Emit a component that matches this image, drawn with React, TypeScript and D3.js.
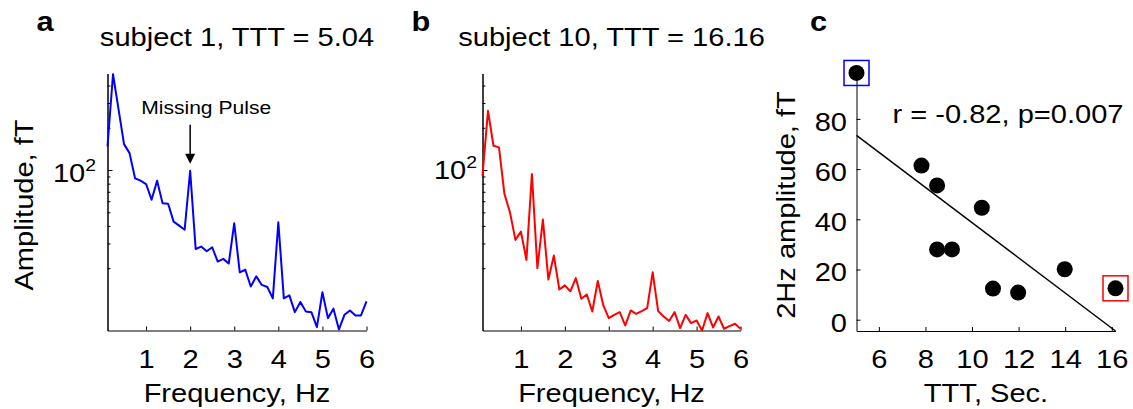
import { useEffect, useRef } from "react";
import * as d3 from "d3";

// frequency bins (Hz)
const freq = [0.125, 0.25, 0.375, 0.5, 0.625, 0.75, 0.875, 1, 1.125, 1.25, 1.375, 1.5, 1.625, 1.75, 1.875, 2,
  2.125, 2.25, 2.375, 2.5, 2.625, 2.75, 2.875, 3, 3.125, 3.25, 3.375, 3.5, 3.625, 3.75, 3.875, 4,
  4.125, 4.25, 4.375, 4.5, 4.625, 4.75, 4.875, 5, 5.125, 5.25, 5.375, 5.5, 5.625, 5.75, 5.875, 6];

// amplitude spectrum, subject 1 (fT)
const ampSubj1 = [147.3, 481, 271.5, 153, 132, 87.3, 84.0, 79.5, 61.5, 84.0, 57.9, 57.6, 42.9, 40.2, 37.6, 98.9,
  27.4, 28.5, 26.4, 28.2, 22.3, 23.3, 21.6, 41.8, 18.7, 19.5, 14.8, 17.5, 15.2, 14.7, 12.2, 42.5,
  12.2, 12.8, 9.73, 11.5, 9.84, 9.73, 7.61, 13.5, 8.82, 10.3, 7.33, 9.31, 10.0, 9.21, 9.21, 11.6];

// amplitude spectrum, subject 10 (fT)
const ampSubj10 = [91.1, 264, 149, 145, 67.5, 50.0, 31.8, 36.5, 22.9, 93.7, 20.0, 44.4, 16.6, 24.6, 14.1, 15.1,
  13.7, 17.0, 12.1, 13.0, 9.84, 16.2, 10.9, 8.82, 9.31, 9.73, 7.82, 10.0, 9.47, 9.89, 10.4, 18.7,
  9.89, 9.06, 8.40, 9.73, 7.49, 9.31, 8.13, 8.49, 7.2, 9.57, 7.57, 9.06, 7.41, 7.74, 8.04, 7.41];

// scatter: TTT (s) vs 2Hz amplitude (fT)
const ttt = [5.04, 7.83, 8.5, 8.5, 9.14, 10.42, 10.9, 11.98, 13.98, 16.16];
const amp2Hz = [98.3, 61.4, 53.5, 28.0, 28.0, 44.6, 12.4, 10.8, 20.1, 12.5];

const freqTicks = [1, 2, 3, 4, 5, 6];
const logMinor = [20, 30, 40, 50, 60, 70, 80, 90, 200, 300, 400];
const tttTicks = [6, 8, 10, 12, 14, 16];
const ampTicks = [0, 20, 40, 60, 80];

const FONT = "'Liberation Sans', Arial, Helvetica, sans-serif";
const FS = 25.5;
const SX = 1.14;

const App = () => {
  const svgRef = useRef<SVGSVGElement>(null);

  useEffect(() => {
    const svg = d3.select(svgRef.current);
    svg.selectAll("*").remove();

    const label = (g: any, x: number, y: number, txt: string, o: any = {}) =>
      g.append("text")
        .attr("transform", `translate(${x},${y}) rotate(${o.rot || 0}) scale(${SX},1)`)
        .attr("text-anchor", o.anchor || "middle")
        .attr("font-size", o.size || FS)
        .attr("font-weight", o.weight || "normal")
        .attr("font-family", FONT)
        .attr("fill", "#000")
        .text(txt);

    const styleAxis = (ax: any) => {
      ax.attr("font-family", FONT).attr("font-size", FS);
      ax.selectAll("path, line").attr("stroke", "#000").attr("stroke-width", 1);
    };

    const top = 73.5, bottom = 330.5;
    const y = d3.scaleLog().domain([7.2, 487]).range([bottom, top]);

    const spectrum = (left: number, right: number, values: number[], color: string,
      title: string, letter: string, supX: number, supY: number) => {
      const g = svg.append("g");
      const x = d3.scaleLinear().domain([0.125, 6]).range([left, right]);

      const xAx = g.append("g")
        .attr("transform", `translate(0,${bottom})`)
        .call(d3.axisBottom(x).tickValues(freqTicks).tickSizeInner(-4).tickSizeOuter(0).tickPadding(19.5).tickFormat(d3.format("d")));
      styleAxis(xAx);
      xAx.selectAll("text").attr("transform", `scale(${SX},1)`);

      const yMinor = g.append("g")
        .attr("transform", `translate(${left},0)`)
        .call(d3.axisLeft(y).tickValues(logMinor).tickSizeInner(-3).tickSizeOuter(0).tickFormat(() => ""));
      styleAxis(yMinor);
      const yMajor = g.append("g")
        .attr("transform", `translate(${left},0)`)
        .call(d3.axisLeft(y).tickValues([100]).tickSizeInner(-5).tickSizeOuter(0).tickFormat(() => ""));
      styleAxis(yMajor);

      // 10^2 label
      const t = label(g, supX, y(100) + supY, "10", { anchor: "end" });
      t.append("tspan").attr("dy", -11).attr("font-size", 17).text("2");

      const line = d3.line<number>()
        .x((_, i) => x(freq[i]))
        .y(d => y(d));
      g.append("path")
        .datum(values)
        .attr("fill", "none")
        .attr("stroke", color)
        .attr("stroke-width", 2)
        .attr("stroke-linejoin", "round")
        .attr("d", line);

      label(g, (left + right) / 2, 46, title);
      label(g, (left + right) / 2, 401.5, "Frequency, Hz");
      label(g, left - 71, 31, letter, { anchor: "start", weight: "bold", size: 27 });
      return { g, x };
    };

    const a = spectrum(107.5, 366.5, ampSubj1, "#0000ff", "subject 1, TTT = 5.04", "a", 96, 11.5);
    spectrum(482.5, 740.5, ampSubj10, "#ff0000", "subject 10, TTT = 16.16", "b", 477, 8.5);

    label(a.g, 33, 205, "Amplitude, fT", { rot: -90 });

    // Missing pulse annotation
    const px = a.x(2);
    const py = y(ampSubj1[15]) - 7;
    a.g.append("line")
      .attr("x1", px).attr("x2", px)
      .attr("y1", py - 39).attr("y2", py - 8)
      .attr("stroke", "#000").attr("stroke-width", 1.5);
    a.g.append("path")
      .attr("d", `M${px - 5},${py - 10}L${px + 5},${py - 10}L${px},${py}Z`)
      .attr("fill", "#000");
    label(a.g, px + 16, py - 50, "Missing Pulse", { size: 18.5 });

    // panel c
    const gc = svg.append("g");
    const cl = 856.5, cr = 1115.5, cb = 331, ct = 68.7;
    const xc = d3.scaleLinear().domain([5.04, 16.16]).range([cl, cr]);

    const n = ttt.length;
    const mx = d3.mean(ttt)!, my = d3.mean(amp2Hz)!;
    const sxy = d3.sum(ttt, (v, i) => (v - mx) * (amp2Hz[i] - my));
    const sxx = d3.sum(ttt, v => (v - mx) ** 2);
    const slope = sxy / sxx;
    const icpt = my - slope * mx;
    const yLow = icpt + slope * 16.16;
    const yc = d3.scaleLinear().domain([yLow, 100]).range([cb, ct]);

    const cx = gc.append("g")
      .attr("transform", `translate(0,${cb})`)
      .call(d3.axisBottom(xc).tickValues(tttTicks).tickSizeInner(-4).tickSizeOuter(0).tickPadding(19.2).tickFormat(d3.format("d")));
    styleAxis(cx);
    cx.selectAll("text").attr("transform", `scale(${SX},1)`);

    const cy = gc.append("g")
      .attr("transform", `translate(${cl},0)`)
      .call(d3.axisLeft(yc).tickValues(ampTicks).tickSizeInner(-4).tickSizeOuter(0).tickPadding(9.5).tickFormat(d3.format("d")));
    styleAxis(cy);
    cy.selectAll("text")
      .attr("dy", "0.45em")
      .attr("transform", `translate(-9.5,0) scale(${SX},1)`)
      .attr("x", 0);

    gc.append("line")
      .attr("x1", xc(5.04)).attr("y1", yc(icpt + slope * 5.04))
      .attr("x2", xc(16.16)).attr("y2", yc(yLow))
      .attr("stroke", "#000").attr("stroke-width", 1.5);

    gc.selectAll("circle.pt")
      .data(d3.range(n))
      .enter().append("circle")
      .attr("class", "pt")
      .attr("cx", i => xc(ttt[i]))
      .attr("cy", i => yc(amp2Hz[i]))
      .attr("r", 8)
      .attr("fill", "#000");

    const hl = [{ i: 0, c: "#0000ff" }, { i: n - 1, c: "#ff0000" }];
    gc.selectAll("rect.hl")
      .data(hl)
      .enter().append("rect")
      .attr("class", "hl")
      .attr("x", d => xc(ttt[d.i]) - 12.5)
      .attr("y", d => yc(amp2Hz[d.i]) - 12.5)
      .attr("width", 25)
      .attr("height", 25)
      .attr("fill", "none")
      .attr("stroke", d => d.c)
      .attr("stroke-width", 1.5);

    label(gc, 892.5, 122.7, "r = -0.82, p=0.007", { anchor: "start" });
    label(gc, (cl + cr) / 2, 401.5, "TTT, Sec.");
    label(gc, 795, 205, "2Hz amplitude, fT", { rot: -90 });
    label(gc, 810, 31, "c", { anchor: "start", weight: "bold", size: 27 });
  }, []);

  return (
    <svg ref={svgRef} width={1133} height={409}
      style={{ position: "absolute", left: 0, top: 0, background: "#fff" }} />
  );
};

export default App;
